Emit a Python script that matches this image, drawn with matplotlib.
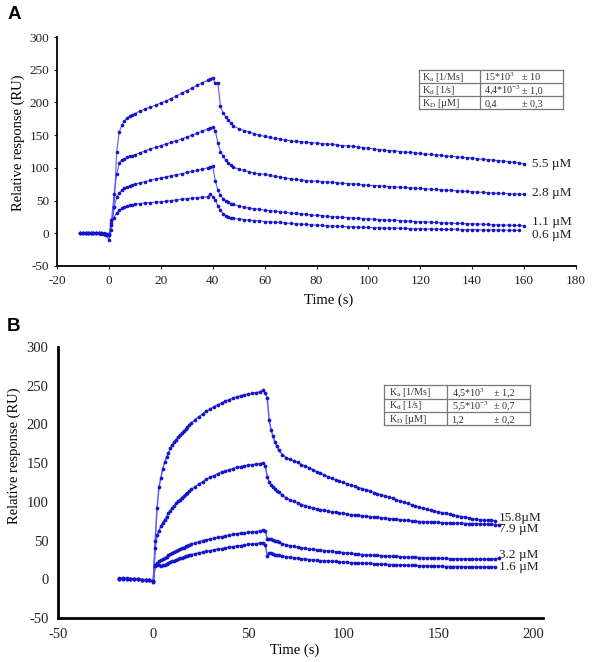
import numpy as np
import matplotlib
matplotlib.use('Agg')
import matplotlib.pyplot as plt
from matplotlib.lines import Line2D

plt.rcParams['font.family'] = ['Liberation Serif', 'DejaVu Serif']
plt.rcParams['mathtext.fontset'] = 'custom'
plt.rcParams['mathtext.rm'] = 'Liberation Serif'
plt.rcParams['mathtext.it'] = 'Liberation Serif:italic'
plt.rcParams['axes.unicode_minus'] = False

# ---------------- Panel A data ----------------
time_a = np.r_[np.arange(-11, 0), np.arange(0, 11), np.arange(12, 39, 2),
               np.arange(39, 49), np.arange(50, 161, 2)]

a_5_5 = [0, 0, 0, 0, 0, 0, 0, 0, 0, -1, -2,
         -10, 5, 40, 125, 155, 165, 172, 176, 179, 181, 183,
         187, 190, 193, 196, 199, 202, 206, 210, 214, 218, 222, 226, 230, 234,
         236, 238, 229, 229, 194, 184, 178, 173, 168, 164,
         160, 157, 155, 152, 150, 148, 146.5, 145, 144, 142.5, 141.5, 140.5, 140, 139,
         138.5, 138, 137, 136.5, 136, 135, 134, 133.5, 133, 132, 131, 130, 129, 128,
         127, 126.5, 126, 125, 124, 123.5, 123, 122, 121, 120.5, 120, 119, 118, 117.5,
         117, 116, 115.5, 115, 114, 113, 112.5, 112, 111, 110.5, 109.5, 108.5, 107.5, 106]
a_2_8 = [0, 0, 0, 0, 0, 0, 0, 0, 0, -1, -1,
         -2, 20, 60, 90, 108, 112, 114, 116, 117.5, 118.5, 120,
         123, 126, 129, 131.5, 134, 136.5, 139, 141.5, 144, 147, 150, 153, 156, 159.5,
         161, 162, 157, 138, 125, 118, 112, 107, 104, 101,
         98, 96, 94, 92, 91, 90, 88.5, 87, 86, 84.5, 83.5, 82.5, 81.5, 80.5, 80, 79.5,
         79, 78.5, 78, 77, 76.5, 76, 75.5, 75, 74, 73.5, 73, 72.5, 72, 71.5, 71, 70.5,
         70, 69.5, 69, 68.5, 68, 67.5, 67, 66.5, 66, 65.5, 65, 64.5, 64, 63.5, 63, 62.5,
         62, 61.5, 61, 61, 60.5, 60, 60, 59.5]
a_1_1 = [0, 0, 0, 0, 0, 0, 0, 0, 0, 0, -1,
         -1, 15, 40, 55, 61, 66, 69, 71, 72.5, 74, 75,
         77, 79, 81, 83, 84.5, 86, 88, 89.5, 91, 93, 94.5, 96, 98, 100,
         101, 103, 80, 66, 58, 53, 50, 47.5, 45.5, 44,
         42, 40, 38.5, 37.5, 36.5, 35.5, 34.5, 33.5, 33, 32, 31, 30.5, 29.5, 29, 28, 27.5,
         27, 26, 25.5, 25, 24.5, 24, 23.5, 23, 22.5, 22, 21.5, 21, 20.5, 20, 20, 19.5,
         19, 18.5, 18, 17.5, 17.5, 17, 16.5, 16, 16, 15.5, 15, 15, 14.5, 14.5, 14, 14,
         13.5, 13, 13, 12.5, 12.5, 12, 12, 11.5]
a_0_6 = [0, 0, 0, 0, 0, 0, 0, 0, -1, -1, -2,
         -3, 12, 24, 31, 35, 38, 40, 41.5, 42.5, 43.5, 44.5,
         45.5, 46.5, 47, 47.5, 48, 49, 50, 51, 52, 53, 53.5, 54.5, 55, 56,
         60, 56, 51, 42, 35, 30, 27, 25, 24, 23,
         22, 21, 20, 19.5, 19, 18, 17.5, 17, 16.5, 16, 15, 14.5, 14, 13.5, 13, 12.5,
         12, 11.5, 11, 11, 10.5, 10, 10, 9.5, 9, 9, 8.5, 8.5, 8, 8, 8, 7.5,
         7.5, 7, 7, 7, 6.5, 6.5, 6.5, 6, 6, 6, 6, 5.5, 5.5, 5.5, 5.5, 5,
         5, 5, 5, 5, 4.5, 4.5, 4.5]
series_a = [a_5_5, a_2_8, a_1_1, a_0_6]
labels_a = ['5.5 µM', '2.8 µM', '1.1 µM', '0.6 µM']
label_pos_a = [106, 62, 17, -3]

table_a_names = [r'K$_{\mathrm{a}}$ [1/Ms]', r'K$_{\mathrm{d}}$ [1/s]', r'K$_{\mathrm{D}}$ [µM]']
table_a_vals = [r'15*10$^{3}$', r'4,4*10$^{-3}$', '0,4']
table_a_pm = ['± 10', '± 1,0', '± 0,3']

# ---------------- Panel B data ----------------
time_b = np.r_[np.arange(-18, -1, 2), np.arange(0, 21), np.arange(22, 59, 2),
               np.arange(59, 67), np.arange(68, 183, 2)]

b_15_8 = [1.5, 1, 1.5, 0.5, 0.5, 0, -0.5, -0.5, -1.5,
          -3, 50, 92, 119, 131, 143, 151, 158, 163, 169, 173.5, 177, 180.5, 183.5, 186.5,
          189, 191.5, 194, 196.5, 199, 201.5,
          206, 210, 213.5, 217, 220, 223, 225.5, 228, 230, 232, 234, 235.5, 237, 238, 239,
          240, 241, 242, 244,
          240, 234, 206, 193, 185, 177, 172, 167,
          161, 157, 155, 153, 151, 148, 146, 144, 141.5, 139,
          137, 134.5, 132.5, 130.5, 128.5, 126.5, 125, 123, 121.5, 120,
          118.5, 117, 115.5, 114, 112, 110.5, 109, 107.5, 106, 104.5,
          102.5, 101, 99.5, 98, 96, 94.5, 93, 91.5, 90.5, 89,
          88, 87, 86, 85, 84, 83, 82, 81, 80, 79,
          78, 77.5, 77, 76.5, 76, 76, 75.5]
b_7_9 = [1, 1.5, 1, 0.5, 0, 0.5, -0.5, -1, -1.5,
         -3, 40, 57, 63, 68.5, 73, 77, 81, 85, 88.5, 92, 95, 98, 100.5, 103, 105.5,
         107.5, 110, 112, 114, 116,
         119.5, 123, 126, 129, 131.5, 134, 136.5, 138.5, 140, 141.5, 143, 144.5, 145.5,
         146.5, 147, 148, 148.5, 149.5, 150.5,
         146, 132, 126, 122, 119.5, 117, 114.5, 112.5,
         108.5, 105, 102.5, 100.5, 98.5, 96.5, 95, 93.5, 92, 91,
         90, 89, 88, 87, 86.5, 85.5, 85, 84, 83.5, 83,
         82.5, 82, 81.5, 81, 80.5, 80, 79.5, 79, 78.5, 78,
         77.5, 77, 76.5, 76, 75.5, 75, 74.5, 74.5, 74, 74,
         73.5, 73.5, 73, 73, 73, 72.5, 72.5, 72.5, 72, 72,
         72, 72, 71.5, 71.5, 71, 71, 70.5, 69.5]
b_3_2 = [1, 1.5, 1, 0.5, 0.5, 0, -0.5, -1, -1.5,
         -2, 18, 21, 23, 24.5, 26, 27.5, 29, 31, 32.5, 34, 35, 36.5, 37.5, 39, 40,
         41, 42.5, 43.5, 44.5, 45.5,
         47, 48.5, 50, 51, 52, 53, 54, 55, 56, 57, 58, 59, 59.5, 60, 60.5, 61, 61.5,
         62.5, 63.5,
         63, 52, 52, 51.5, 51, 50, 49, 48,
         46, 44.5, 43.5, 42.5, 41.5, 40.5, 40, 39, 38.5, 38,
         37.5, 37, 36.5, 36, 35.5, 35, 34.5, 34, 33.5, 33,
         32.5, 32, 31.5, 31.5, 31, 31, 30.5, 30, 30, 29.5,
         29.5, 29, 29, 28.5, 28.5, 28.5, 28, 28, 27.5, 27.5,
         27.5, 27, 27, 27, 26.5, 26.5, 26.5, 26.5, 26, 26,
         26, 26, 26, 26, 26, 26, 26.5, 27]
b_1_6 = [0.5, 1, 0.5, 0, 0.5, 0, -0.5, -1, -1.5,
         -2, 17, 18.5, 18, 17.5, 18, 19, 20, 21, 22, 23, 24, 25, 26, 27, 28,
         28.5, 29.5, 30.5, 31, 32,
         33, 34, 35, 36, 37, 38, 39, 39.5, 40.5, 41.5, 42, 43, 43.5, 44, 45, 45.5, 46,
         46.5, 47.5,
         44, 30, 34, 33.5, 32.5, 32, 31.5, 31,
         30, 29, 28.5, 28, 27, 26.5, 26, 25.5, 25, 24.5,
         24, 24, 23.5, 23, 23, 22.5, 22, 22, 21.5, 21.5,
         21, 21, 20.5, 20.5, 20, 20, 19.5, 19.5, 19, 19,
         18.5, 18.5, 18.5, 18, 18, 18, 17.5, 17.5, 17.5, 17,
         17, 17, 17, 16.5, 16.5, 16.5, 16.5, 16.5, 16, 16,
         16, 16, 16, 16, 16, 16, 16]
series_b = [b_15_8, b_7_9, b_3_2, b_1_6]
labels_b = ['15.8µM', '7.9 µM', '3.2 µM', '1.6 µM']
label_pos_b = [79.5, 65, 31.5, 16.5]

table_b_names = table_a_names
table_b_vals = [r'4,5*10$^{3}$', r'5,5*10$^{-3}$', '1,2']
table_b_pm = ['± 1,2', '± 0,7', '± 0,2']

# ---------------- figure ----------------
W, H = 594, 662
fig = plt.figure(figsize=(W / 100, H / 100), dpi=100)


def fx(x):
    return x / W


def fy(y):
    return 1 - y / H


MARK = '#1515c8'
LINE = '#5a5af0'

# Panel A axes
axA = fig.add_axes([fx(57), fy(266), (576 - 57) / W, (266 - 37) / H])
for vals in series_a:
    t = time_a[:len(vals)]
    axA.plot(t, vals, color=LINE, lw=0.8, zorder=2)
    axA.plot(t, vals, ls='none', marker='o', ms=2.6, color=MARK, mec=MARK, mew=0, zorder=3)
for lab, yv in zip(labels_a, label_pos_a):
    axA.text(163, yv, lab, ha='left', va='center', fontsize=9.5, color='#222222')
axA.set_xlim(-20, 180)
axA.set_ylim(-50, 300)
axA.set_xticks(np.arange(-20, 181, 20))
axA.set_yticks(np.arange(-50, 301, 50))
axA.tick_params(labelsize=9.5, length=2.5, width=0.8, pad=3, colors='#222222')
axA.tick_params(axis='x', pad=4)
for s in ['top', 'right']:
    axA.spines[s].set_visible(False)
for s in ['left', 'bottom']:
    axA.spines[s].set_linewidth(1.3)
axA.set_xlabel('Time (s)', fontsize=10.5)
axA.xaxis.label.set_va('center')
axA.xaxis.set_label_coords((329 - 57) / 519, (266 - 300) / 229)
axA.set_ylabel('Relative response (RU)', fontsize=10.5)
axA.yaxis.label.set_va('center')
axA.yaxis.set_label_coords((18 - 57) / 519, (266 - 142.5) / 229)

# Panel B axes
axB = fig.add_axes([fx(58.3), fy(618), (542.7 - 58.3) / W, (618 - 347) / H])
for vals in series_b:
    t = time_b[:len(vals)]
    axB.plot(t, vals, color=LINE, lw=1.1, zorder=2)
    axB.plot(t, vals, ls='none', marker='o', ms=2.7, color=MARK, mec=MARK, mew=0, zorder=3)
for lab, yv in zip(labels_b, label_pos_b):
    axB.text(182, yv, lab, ha='left', va='center', fontsize=9.5, color='#222222')
axB.set_xlim(-50, 205)
axB.set_ylim(-50, 300)
axB.set_xticks(np.arange(-50, 201, 50))
axB.set_yticks(np.arange(-50, 301, 50))
axB.tick_params(labelsize=10.5, length=0, pad=7, colors='#222222')
for s in ['top', 'right']:
    axB.spines[s].set_visible(False)
for s in ['left', 'bottom']:
    axB.spines[s].set_linewidth(2.0)
axB.set_xlabel('Time (s)', fontsize=10.5)
axB.xaxis.label.set_va('center')
axB.xaxis.set_label_coords((295 - 58.3) / 484.4, (618 - 650) / 271)
axB.set_ylabel('Relative response (RU)', fontsize=10.5)
axB.yaxis.label.set_va('center')
axB.yaxis.set_label_coords((14 - 58.3) / 484.4, (618 - 455.5) / 271)


def draw_table(left, right, top, bottom, div, names, vals, pms, xname, xval, xpm):
    rows = len(names)
    rh = (bottom - top) / rows
    kw = dict(color='#777777', lw=0.9, transform=fig.transFigure)
    for yy in [top + i * rh for i in range(rows + 1)]:
        fig.add_artist(Line2D([fx(left), fx(right)], [fy(yy), fy(yy)], **kw))
    for xx in [left, div, right]:
        fig.add_artist(Line2D([fx(xx), fx(xx)], [fy(top), fy(bottom)], **kw))
    for i in range(rows):
        yc = top + (i + 0.55) * rh
        fig.text(fx(xname), fy(yc), names[i], ha='left', va='center', fontsize=7.3, color='#333333')
        fig.text(fx(xval), fy(yc), vals[i], ha='left', va='center', fontsize=7.3, color='#333333')
        fig.text(fx(xpm), fy(yc), pms[i], ha='left', va='center', fontsize=7.3, color='#333333')


draw_table(419.3, 562.7, 70, 109.3, 480.3, table_a_names, table_a_vals, table_a_pm, 422.5, 484.5, 522.5)
draw_table(384.3, 530, 385.3, 425.3, 446.7, table_b_names, table_b_vals, table_b_pm, 389, 451.5, 494)

fig.text(fx(14), fy(14.5), 'A', fontsize=13.5, fontweight='bold', family='Liberation Sans',
         ha='center', va='center')
fig.text(fx(13), fy(326.5), 'B', fontsize=13.5, fontweight='bold', family='Liberation Sans',
         ha='center', va='center')

fig.savefig('out.png', dpi=100)
